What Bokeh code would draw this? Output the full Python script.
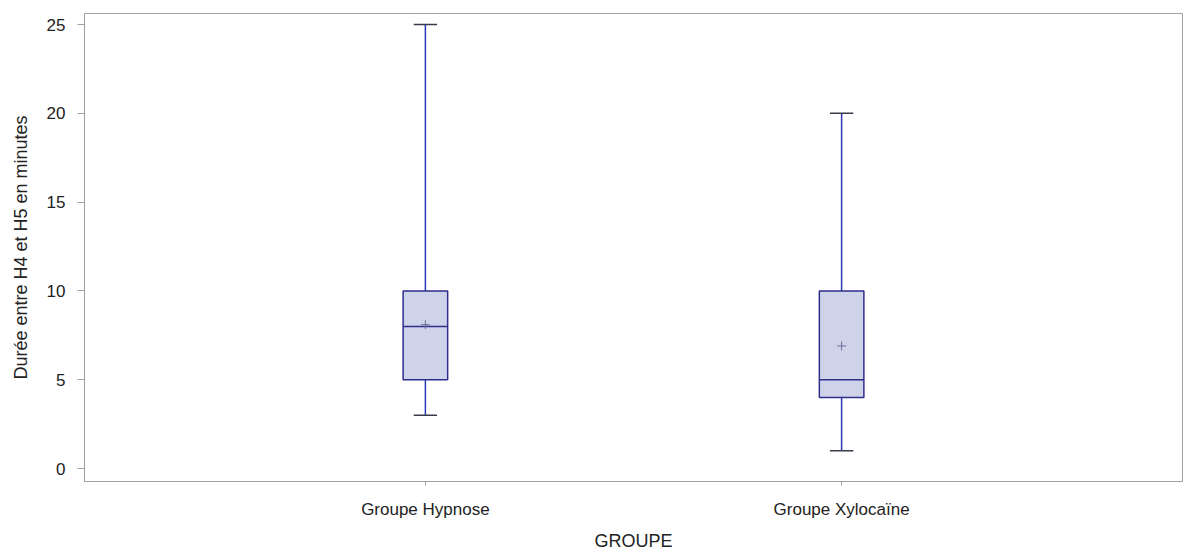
from bokeh.plotting import figure
from bokeh.models import FactorRange, Range1d, ColumnDataSource, FixedTicker
from bokeh.transform import dodge
from bokeh.embed import file_html
from bokeh.resources import INLINE

groups = ["Groupe Hypnose", "Groupe Xylocaïne"]
minimum = [3, 1]
q1 = [5, 4]
median = [8, 5]
q3 = [10, 10]
maximum = [25, 20]
mean = [8.1, 6.9]
y_ticks = [0, 5, 10, 15, 20, 25]

src = ColumnDataSource(dict(g=groups, lo=minimum, q1=q1, med=median, q3=q3, hi=maximum, mean=mean))

FONT = "Liberation Sans"

p = figure(
    x_range=FactorRange(factors=groups, range_padding=0.319, range_padding_units="absolute"),
    y_range=Range1d(-0.73, 25.62),
    frame_width=1098, frame_height=468,
    min_border_left=84, min_border_right=2, min_border_top=13, min_border_bottom=60,
    output_backend="svg", toolbar_location=None,
)
p.outline_line_color = "#a0a0a0"
p.xgrid.visible = False
p.ygrid.visible = False

# whiskers
p.segment(x0="g", y0="lo", x1="g", y1="q1", source=src, line_color="#2b38b8", line_width=1.5)
p.segment(x0="g", y0="q3", x1="g", y1="hi", source=src, line_color="#2b38b8", line_width=1.5)
# caps
p.segment(x0=dodge("g", -0.028, range=p.x_range), y0="lo", x1=dodge("g", 0.028, range=p.x_range), y1="lo",
          source=src, line_color="#3a3a4a", line_width=1.5)
p.segment(x0=dodge("g", -0.028, range=p.x_range), y0="hi", x1=dodge("g", 0.028, range=p.x_range), y1="hi",
          source=src, line_color="#3a3a4a", line_width=1.5)
# boxes
p.vbar(x="g", width=0.107, bottom="q1", top="q3", source=src,
       fill_color="#cfd3ea", line_color="#2e2e8c", line_width=1.5)
# median
p.segment(x0=dodge("g", -0.0535, range=p.x_range), y0="med", x1=dodge("g", 0.0535, range=p.x_range), y1="med",
          source=src, line_color="#2e2e8c", line_width=1.5)
# mean
p.scatter(x="g", y="mean", source=src, marker="cross", size=9, line_color="#6a6f9a", line_width=1)

p.yaxis.ticker = FixedTicker(ticks=y_ticks)
p.yaxis.axis_label = "Durée entre H4 et H5 en minutes"
p.xaxis.axis_label = "GROUPE"
for ax in (p.xaxis[0], p.yaxis[0]):
    ax.axis_line_color = "#a0a0a0"
    ax.major_tick_line_color = "#a0a0a0"
    ax.minor_tick_line_color = None
    ax.major_tick_out = 7
    ax.major_tick_in = 0
    ax.major_label_text_font = FONT
    ax.major_label_text_font_size = "17px"
    ax.major_label_text_color = "#222222"
    ax.axis_label_text_font = FONT
    ax.axis_label_text_font_size = "18px"
    ax.axis_label_text_font_style = "normal"
    ax.axis_label_text_color = "#222222"
p.xaxis.major_tick_out = 4
p.xaxis.major_label_standoff = 14
p.xaxis.axis_label_standoff = 9
p.yaxis.major_label_standoff = 12
p.yaxis.axis_label_standoff = 13

open("out.html", "w").write(file_html(p, INLINE))
